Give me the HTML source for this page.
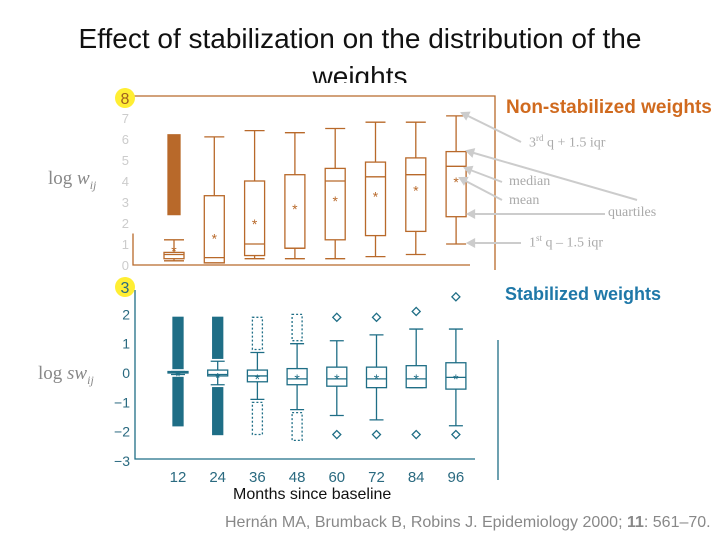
<!DOCTYPE html>
<html><head><meta charset="utf-8"><style>
body{margin:0;width:720px;height:540px;background:#fff;overflow:hidden;position:relative;font-family:"Liberation Sans",sans-serif}
.t{position:absolute;white-space:nowrap}
</style></head><body>
<div class="t" style="left:0;width:720px;text-align:center;top:20px;font-size:28px;color:#111;line-height:38px">Effect of stabilization on the distribution of the<br>weights</div>
<svg id="s" width="720" height="540" style="position:absolute;left:0;top:0"></svg>
<div class="t" style="left:506px;top:97px;font-size:19px;font-weight:bold;color:#d06a1e">Non-stabilized weights</div>
<div class="t" style="left:505px;top:284px;font-size:18px;font-weight:bold;color:#1f78a8">Stabilized weights</div>
<div class="t" style="left:529px;top:133px;font-size:14px;color:#aaa;font-family:'Liberation Serif',serif">3<sup style="font-size:9px">rd</sup> q + 1.5 iqr</div>
<div class="t" style="left:509px;top:174px;font-size:14px;color:#aaa;font-family:'Liberation Serif',serif">median</div>
<div class="t" style="left:509px;top:193px;font-size:14px;color:#aaa;font-family:'Liberation Serif',serif">mean</div>
<div class="t" style="left:608px;top:205px;font-size:14px;color:#aaa;font-family:'Liberation Serif',serif">quartiles</div>
<div class="t" style="left:529px;top:233px;font-size:14px;color:#aaa;font-family:'Liberation Serif',serif">1<sup style="font-size:9px">st</sup> q – 1.5 iqr</div>
<div class="t" style="left:48px;top:168px;font-size:19px;color:#888;font-family:'Liberation Serif',serif">log <i>w<sub style="font-size:12px">ij</sub></i></div>
<div class="t" style="left:38px;top:363px;font-size:19px;color:#888;font-family:'Liberation Serif',serif">log <i>sw<sub style="font-size:12px">ij</sub></i></div>
<div class="t" style="left:233px;top:486px;font-size:16px;color:#111">Months since baseline</div>
<div class="t" style="left:225px;top:514px;font-size:16px;color:#888">Hernán MA, Brumback B, Robins J. Epidemiology 2000; <b>11</b>: 561–70.</div>
<script>
const months=[12,24,36,48,60,72,84,96];
const topLo=[0.2,0.1,0.3,0.3,0.3,0.4,0.5,1.0];
const topQ1=[0.3,0.1,0.45,0.8,1.2,1.4,1.6,2.3];
const topMed=[0.5,0.35,1.0,0.8,4.0,4.2,4.3,4.7];
const topQ3=[0.6,3.3,4.0,4.3,4.6,4.9,5.1,5.4];
const topHi=[1.2,6.1,6.4,6.3,6.5,6.8,6.8,7.1];
const topMean=[0.8,1.4,2.1,2.8,3.2,3.4,3.7,4.1];
const topOutLo=[2.4,null,null,null,null,null,null,null];
const topOutHi=[6.2,null,null,null,null,null,null,null];
const botLo=[-0.05,-0.4,-0.9,-1.25,-1.45,-1.6,-0.5,-1.8];
const botQ1=[0,-0.1,-0.3,-0.4,-0.45,-0.5,-0.5,-0.55];
const botMed=[0.02,-0.05,-0.1,-0.2,-0.2,-0.2,-0.2,-0.15];
const botQ3=[0.05,0.1,0.1,0.15,0.2,0.2,0.25,0.35];
const botHi=[0.05,0.4,0.7,1.0,1.1,1.3,1.5,1.5];
const botMean=[0,-0.05,-0.1,-0.1,-0.1,-0.1,-0.1,-0.1];
const botOutTop=[1.9,1.9,1.9,2.0,1.9,1.9,2.1,2.6];
const botOutBot=[-1.8,-2.1,-2.1,-2.3,-2.1,-2.1,-2.1,-2.1];
const topTicks=[0,1,2,3,4,5,6,7];
const botTicks=[-3,-2,-1,0,1,2];
const S=document.getElementById('s'),NS='http://www.w3.org/2000/svg';
function el(t,a,p){const e=document.createElementNS(NS,t);for(const k in a)e.setAttribute(k,a[k]);(p||S).appendChild(e);return e;}
const xT=m=>174+(m-12)/12*40.3;
const yT=v=>265-v*21;
const xB=m=>178+(m-12)/12*39.7;
const yB=v=>373-v*29.3;
let bg=el('rect',{x:105,y:83,width:395,height:403,fill:'#fff'});

const O='#b8692a',T='#1f6e86';
let f=el('path',{d:`M133,96 H495 V270 M133,${yT(1.5)} V265 H470`,fill:'none',stroke:O,'stroke-width':1.3});

topTicks.forEach(v=>{let t=el('text',{x:129,y:yT(v)+5,'text-anchor':'end','font-size':13,fill:'#ccc','font-family':'Liberation Sans'});t.textContent=v;
});
months.forEach((m,i)=>{const x=xT(m),w=10;
const g=el('g',{stroke:O,fill:'none','stroke-width':1.3});

el('path',{d:`M${x},${yT(topQ3[i])}V${yT(topHi[i])}M${x-w},${yT(topHi[i])}H${x+w}M${x},${yT(topQ1[i])}V${yT(topLo[i])}M${x-w},${yT(topLo[i])}H${x+w}`},g);
el('rect',{x:x-w,y:yT(topQ3[i]),width:2*w,height:Math.max(1,yT(topQ1[i])-yT(topQ3[i]))},g);
el('line',{x1:x-w,x2:x+w,y1:yT(topMed[i]),y2:yT(topMed[i])},g);
if(topOutLo[i]!==null){el('rect',{x:x-6,y:yT(topOutHi[i]),width:12,height:yT(topOutLo[i])-yT(topOutHi[i]),fill:O},g);}
const t=el('text',{x:x,y:yT(topMean[i])+8,'text-anchor':'middle','font-size':14,fill:O,stroke:'none'},g);t.textContent='*';
});
let fb=el('path',{d:`M135,290 V459 H475 M498,340 V480`,fill:'none',stroke:T,'stroke-width':1.3});

botTicks.forEach(v=>{let t=el('text',{x:130,y:yB(v)+5,'text-anchor':'end','font-size':14,fill:'#2a6a80','font-family':'Liberation Sans'});t.textContent=v<0?'−'+(-v):v;
});
months.forEach((m,i)=>{const x=xB(m),w=10;
let lt=el('text',{x:x,y:482,'text-anchor':'middle','font-size':15,fill:'#2a6a80'});lt.textContent=m;

const g=el('g',{stroke:T,fill:'none','stroke-width':1.3});

el('path',{d:`M${x},${yB(botQ3[i])}V${yB(botHi[i])}M${x-7},${yB(botHi[i])}H${x+7}M${x},${yB(botQ1[i])}V${yB(botLo[i])}M${x-7},${yB(botLo[i])}H${x+7}`},g);
el('rect',{x:x-w,y:yB(botQ3[i]),width:2*w,height:Math.max(1,yB(botQ1[i])-yB(botQ3[i]))},g);
el('line',{x1:x-w,x2:x+w,y1:yB(botMed[i]),y2:yB(botMed[i])},g);
if(i<4){el('rect',{x:x-5,y:yB(botOutTop[i]),width:10,height:yB(botHi[i])-yB(botOutTop[i])-3,fill:i<2?T:'none','stroke-dasharray':i<2?'':'2 2'},g);
el('rect',{x:x-5,y:yB(botLo[i])+3,width:10,height:yB(botOutBot[i])-yB(botLo[i])-3,fill:i<2?T:'none','stroke-dasharray':i<2?'':'2 2'},g);}
else{[botOutTop[i],botOutBot[i]].forEach(v=>{el('path',{d:`M${x},${yB(v)-4}l4,4l-4,4l-4,-4z`},g);});}
const t=el('text',{x:x,y:yB(botMean[i])+8,'text-anchor':'middle','font-size':14,fill:T,stroke:'none'},g);t.textContent='*';
});
const A=[[521,142,462,113],[637,200,467,151],[502,182,465,168],[502,200,460,178],[605,214,468,214],[521,243,468,243]];
A.forEach(a=>{const g=el('g',{stroke:'#ccc',fill:'#ccc','stroke-width':2});

el('line',{x1:a[0],y1:a[1],x2:a[2],y2:a[3]},g);
const ang=Math.atan2(a[3]-a[1],a[2]-a[0]),L=7;
el('path',{d:`M${a[2]},${a[3]}L${a[2]-L*Math.cos(ang-0.5)},${a[3]-L*Math.sin(ang-0.5)}L${a[2]-L*Math.cos(ang+0.5)},${a[3]-L*Math.sin(ang+0.5)}z`},g);});
[[125,98,'8'],[125,287,'3']].forEach(b=>{const g=el('g',{});

el('circle',{cx:b[0],cy:b[1],r:10,fill:'#ffee33'},g);
const t=el('text',{x:b[0],y:b[1]+6,'text-anchor':'middle','font-size':16,fill:b[2]==='8'?'#a06020':'#2a6a80'},g);t.textContent=b[2];});
</script>
</body></html>
